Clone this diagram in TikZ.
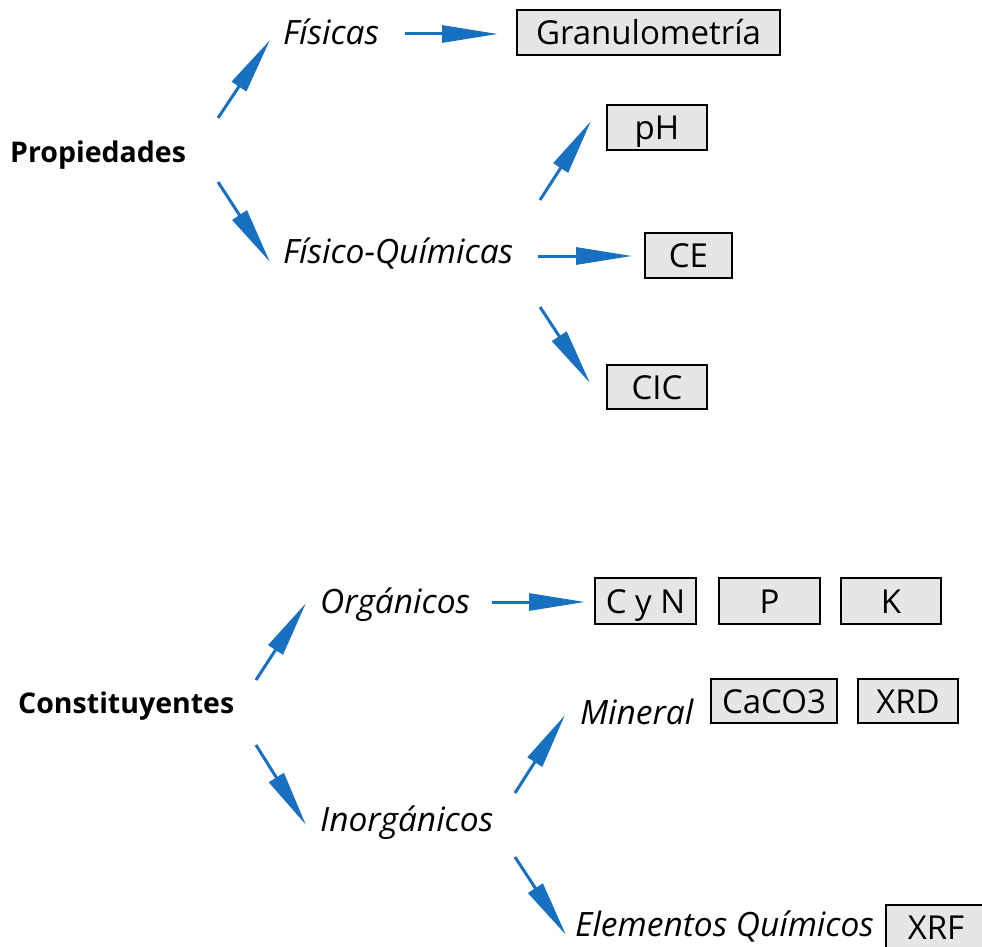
\documentclass[tikz,border=0pt]{standalone}
\usepackage{fontspec}
\setmainfont{Open Sans}
\usetikzlibrary{arrows.meta}
\definecolor{arrowblue}{RGB}{24,112,192}
\definecolor{boxgray}{RGB}{230,230,230}
\tikzset{
  conn/.style={draw=arrowblue, line width=3pt, -{Triangle[length=56pt,width=17pt]}},
  itlabel/.style={anchor=base west, inner sep=0pt, font=\fontsize{33.5}{36}\selectfont\itshape},
  boldlabel/.style={anchor=base west, inner sep=0pt, font=\fontsize{28.5}{32}\selectfont\bfseries},
  databox/.style={draw=black, line width=1.5pt, fill=boxgray, inner sep=0pt, minimum height=45pt,
    text height=30pt, text depth=6pt, font=\fontsize{33}{36}\selectfont},
}
\begin{document}
\begin{tikzpicture}[x=1pt,y=-1pt]
\useasboundingbox (0,0) rectangle (982,947);
% labels
\node[boldlabel] (prop) at (10,162) {Propiedades};
\node[itlabel] (fis) at (283,45) {Físicas};
\node[itlabel] (fq) at (283,263) {Físico-Químicas};
\node[boldlabel] (cons) at (18,713) {Constituyentes};
\node[itlabel] (org) at (320,613) {Orgánicos};
\node[itlabel] (inorg) at (320,831) {Inorgánicos};
\node[itlabel] (min) at (580,724) {Mineral};
\node[itlabel] (elem) at (575,936) {Elementos Químicos};
% boxes
\node[databox, minimum width=263pt] (gran) at (648.5,32.5) {Granulometría};
\node[databox, minimum width=100pt] (ph) at (657,127.5) {pH};
\node[databox, minimum width=87pt] (ce) at (688.5,255.5) {CE};
\node[databox, minimum width=100pt, minimum height=44pt] (cic) at (657,387) {CIC};
\node[databox, minimum width=101pt, minimum height=46pt] (cyn) at (645.5,601) {C y N};
\node[databox, minimum width=101pt, minimum height=46pt] (p) at (769.5,601) {P};
\node[databox, minimum width=100pt, minimum height=46pt] (k) at (891,601) {K};
\node[databox, minimum width=126pt, minimum height=44pt] (caco) at (774,701) {CaCO3};
\node[databox, minimum width=100pt, minimum height=44pt] (xrd) at (908,701) {XRD};
\node[databox, minimum width=100pt] (xrf) at (936,927.5) {XRF};
% connector end points
\coordinate (a1s) at (218,118); \coordinate (a1e) at (270,40);
\coordinate (a2s) at (218,182); \coordinate (a2e) at (270,262);
\coordinate (a3s) at (405,34);  \coordinate (a3e) at (498,34);
\coordinate (a4s) at (540,200); \coordinate (a4e) at (591,121);
\coordinate (a5s) at (538,256); \coordinate (a5e) at (632,256);
\coordinate (a6s) at (540,307); \coordinate (a6e) at (590,383);
\coordinate (b1s) at (256,680); \coordinate (b1e) at (306,603);
\coordinate (b2s) at (256,745); \coordinate (b2e) at (306,825);
\coordinate (b3s) at (492,602); \coordinate (b3e) at (585,602);
\coordinate (b4s) at (515,793); \coordinate (b4e) at (565,715);
\coordinate (b5s) at (515,857); \coordinate (b5e) at (566,935);
\draw[conn] (a1s) -- (a1e);
\draw[conn] (a2s) -- (a2e);
\draw[conn] (a3s) -- (a3e);
\draw[conn] (a4s) -- (a4e);
\draw[conn] (a5s) -- (a5e);
\draw[conn] (a6s) -- (a6e);
\draw[conn] (b1s) -- (b1e);
\draw[conn] (b2s) -- (b2e);
\draw[conn] (b3s) -- (b3e);
\draw[conn] (b4s) -- (b4e);
\draw[conn] (b5s) -- (b5e);
\end{tikzpicture}
\end{document}
